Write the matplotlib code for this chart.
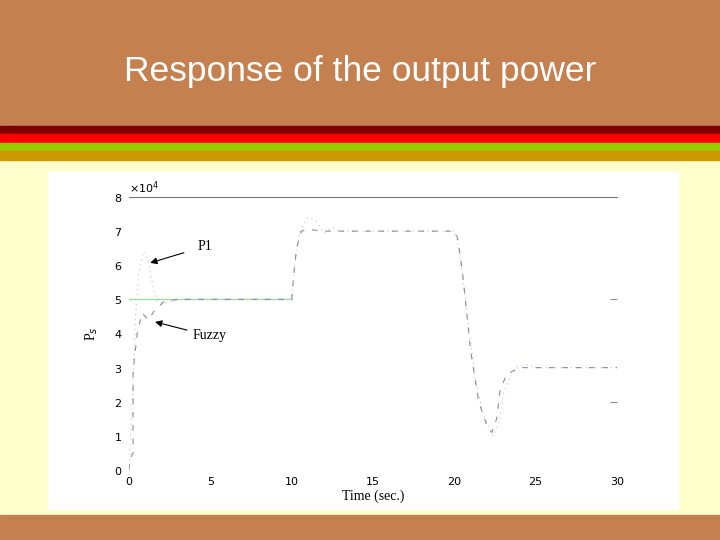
import numpy as np
import matplotlib.pyplot as plt
import matplotlib.patches as patches
from matplotlib.ticker import ScalarFormatter

# slide title
title = "Response of the output power"

# fuzzy controller response (time in s, power in W)
fuzzy_t = [0, 0.05, 0.25, 0.25, 0.3, 0.5, 0.8, 1.2, 1.6, 2.2, 3, 10, 10.1, 10.3, 10.6, 11, 12, 20,
           20.2, 20.5, 21, 21.5, 22, 22.3, 22.6, 22.8, 23.2, 24, 30]
fuzzy_p = [0, 3000, 5000, 28000, 31000, 40000, 46000, 44000, 47000, 49500, 50000, 50000, 56000, 65000,
           70000, 70500, 70000, 70000, 68000, 58000, 35000, 20000, 13000, 11000, 15000, 23000, 28000,
           30000, 30000]

# PI controller response
pi_t = [0, 0.2, 0.4, 0.6, 0.9, 1.2, 1.5, 1.8, 2.3, 3, 10, 10.2, 10.5, 11, 11.5, 12, 12.5, 13, 13.7,
        20, 20.3, 20.8, 21.3, 21.8, 22.4, 22.8, 23.0, 23.3, 23.8, 24.3, 25, 30]
pi_p = [0, 20000, 45000, 58000, 64000, 61000, 53000, 49000, 49000, 50000, 50000, 60000, 70000, 74000,
        73000, 69500, 71000, 70000, 70000, 70000, 65000, 45000, 26000, 16000, 10000, 15000, 22000,
        26000, 30000, 31000, 30000, 30000]

# reference power
ref_t = [0, 10]
ref_p = [50000, 50000]

xticks = [0, 5, 10, 15, 20, 25, 30]
yticks = [0, 10000, 20000, 30000, 40000, 50000, 60000, 70000, 80000]

fig = plt.figure(figsize=(7.2, 5.4), dpi=100)
fig.patch.set_facecolor('#ffffcc')

# slide background
bg = fig.add_axes([0, 0, 1, 1])
bg.set_xlim(0, 720)
bg.set_ylim(540, 0)
bg.axis('off')
bg.add_patch(patches.Rectangle((0, 0), 720, 126, color='#c4804f'))
bg.add_patch(patches.Rectangle((0, 126), 720, 8, color='#800000'))
bg.add_patch(patches.Rectangle((0, 134), 720, 9, color='#ff0000'))
bg.add_patch(patches.Rectangle((0, 143), 720, 8, color='#99cc00'))
bg.add_patch(patches.Rectangle((0, 151), 720, 9, color='#cc9900'))
bg.add_patch(patches.Rectangle((0, 515), 720, 25, color='#c4804f'))
bg.add_patch(patches.Rectangle((48, 172), 630, 337, color='white'))
bg.text(360, 71, title, color='white', fontsize=25.5, family='Liberation Sans',
        ha='center', va='center')

ax = fig.add_axes([129 / 720, 1 - 470 / 540, 488 / 720, 273 / 540])
ax.set_facecolor('white')
ax.plot(ref_t, ref_p, color='#99e099', lw=1)
ax.plot(pi_t, pi_p, color='#cfcfcf', lw=0.9, ls=(0, (1, 3)))
ax.plot(fuzzy_t, fuzzy_p, color='#8a8aa8', lw=0.8, ls=(0, (5, 7)))

ax.set_xlim(0, 30)
ax.set_ylim(0, 80000)
ax.set_xticks(xticks)
ax.set_yticks(yticks)
fmt = ScalarFormatter(useMathText=True)
fmt.set_powerlimits((0, 0))
ax.yaxis.set_major_formatter(fmt)
ax.yaxis.get_offset_text().set_fontsize(8)
for s in ['left', 'bottom', 'right']:
    ax.spines[s].set_visible(False)
ax.spines['top'].set_color('#777777')
ax.spines['top'].set_linewidth(0.8)
ax.tick_params(length=0, labelsize=8, pad=5)

# faint right-side tick marks
ax2 = ax.twinx()
ax2.set_ylim(0, 80000)
ax2.set_yticks([20000, 50000])
ax2.set_yticklabels([])
ax2.tick_params(direction='in', length=5, color='#888888', width=0.7)
for s in ax2.spines.values():
    s.set_visible(False)

ax.set_xlabel('Time (sec.)', family='Liberation Serif', fontsize=10, labelpad=2)
ax.set_ylabel('P$_s$', family='Liberation Serif', fontsize=10, labelpad=10)

ax.annotate('P1', xy=(1.3, 60700), xytext=(4.2, 65500), family='Liberation Serif',
            fontsize=10, va='center',
            arrowprops=dict(arrowstyle='-|>', color='black', lw=0.8, shrinkA=8, shrinkB=0))
ax.annotate('Fuzzy', xy=(1.6, 43400), xytext=(3.9, 39300), family='Liberation Serif',
            fontsize=10, va='center',
            arrowprops=dict(arrowstyle='-|>', color='black', lw=0.8, shrinkA=2, shrinkB=0))

fig.savefig('out.png', dpi=100, facecolor=fig.get_facecolor())
